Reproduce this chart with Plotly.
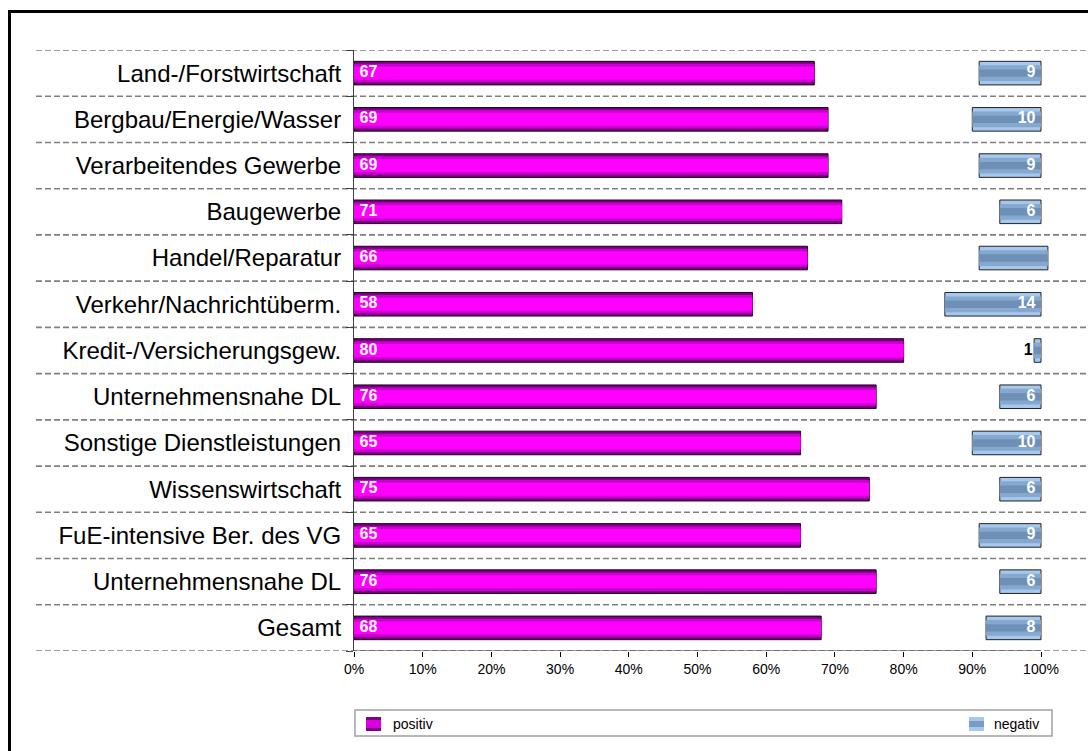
import plotly.graph_objects as go

categories = [
    "Land-/Forstwirtschaft",
    "Bergbau/Energie/Wasser",
    "Verarbeitendes Gewerbe",
    "Baugewerbe",
    "Handel/Reparatur",
    "Verkehr/Nachrichtüberm.",
    "Kredit-/Versicherungsgew.",
    "Unternehmensnahe DL",
    "Sonstige Dienstleistungen",
    "Wissenswirtschaft",
    "FuE-intensive Ber. des VG",
    "Unternehmensnahe DL",
    "Gesamt",
]
positiv = [67, 69, 69, 71, 66, 58, 80, 76, 65, 75, 65, 76, 68]
neutral = [24, 21, 22, 23, 25, 28, 19, 18, 25, 19, 26, 18, 24]
negativ = [9, 10, 9, 6, 10, 14, 1, 6, 10, 6, 9, 6, 8]
negativ_label = ["9", "10", "9", "6", "", "14", "1", "6", "10", "6", "9", "6", "8"]
x_ticks = [0, 10, 20, 30, 40, 50, 60, 70, 80, 90, 100]
x_ticktext = [f"{v}%" for v in x_ticks]

FONT = "Liberation Sans, Arial, sans-serif"
ypos = list(range(len(categories)))
neg_base = [p + n for p, n in zip(positiv, neutral)]
neg_end = [b + v for b, v in zip(neg_base, negativ)]

X_MAX = 101.6  # a little room so an overshooting bar is not clipped
W, H = 1088, 751
UNIT = 6.87  # pixels per percent
ML, MT, MB = 354, 50, 100
MR = round(W - ML - X_MAX * UNIT)
PW, PH = W - ML - MR, H - MT - MB


def px(xf):
    return (xf - ML) / PW


def py(yf):
    return (H - MB - yf) / PH


fig = go.Figure()

# positive bars (layered for a vertical gradient look)
pos_layers = [(0.51, "#7a0080", dict(color="#1a001a", width=1)),
              (0.40, "#c800d0", dict(width=0)),
              (0.28, "#ff00ff", dict(width=0))]
for w, c, ln in pos_layers:
    fig.add_trace(go.Bar(x=positiv, y=ypos, base=0, orientation="h", width=w,
                         marker=dict(color=c, line=ln), showlegend=False,
                         hoverinfo="skip"))

# negative bars
neg_layers = [(0.51, "#a4c8ee", dict(color="#222222", width=1)),
              (0.34, "#86a8cf", dict(width=0)),
              (0.16, "#6e8fb6", dict(width=0))]
for w, c, ln in neg_layers:
    fig.add_trace(go.Bar(x=negativ, y=ypos, base=neg_base, orientation="h", width=w,
                         marker=dict(color=c, line=ln), showlegend=False,
                         hoverinfo="skip"))

# labels
fig.add_trace(go.Scatter(x=[0.8] * len(positiv), y=ypos, mode="text",
                         text=[str(v) for v in positiv], textposition="middle right",
                         textfont=dict(family=FONT, size=16, color="white", weight="bold"),
                         showlegend=False, hoverinfo="skip", cliponaxis=False))

lab_x, lab_col = [], []
for b, e, v in zip(neg_base, neg_end, negativ):
    if v < 3:
        lab_x.append(b - 0.2)
        lab_col.append("black")
    else:
        lab_x.append(e - 0.8)
        lab_col.append("white")
fig.add_trace(go.Scatter(x=lab_x, y=ypos, mode="text", text=negativ_label,
                         textposition="middle left",
                         textfont=dict(family=FONT, size=16, color=lab_col, weight="bold"),
                         showlegend=False, hoverinfo="skip", cliponaxis=False))

# dashed separators between categories
shapes = []
for i in range(len(categories) + 1):
    yv = i - 0.5
    shapes.append(dict(type="line", xref="paper", yref="y", x0=px(36), x1=px(W + 5),
                       y0=yv, y1=yv, layer="below",
                       line=dict(color="#808080", width=1.6, dash="6px,3px")))

# x axis baseline from 0% to 100%
shapes.append(dict(type="line", xref="x", yref="y", x0=x_ticks[0], x1=x_ticks[-1],
                   y0=len(categories) - 0.5, y1=len(categories) - 0.5,
                   line=dict(color="#404040", width=1)))

# outer frame
shapes.append(dict(type="rect", xref="paper", yref="paper", x0=px(9.5), x1=px(W + 40),
                   y0=py(H + 40), y1=py(11.5), line=dict(color="black", width=3),
                   fillcolor="rgba(0,0,0,0)"))

# legend box (manual)
shapes.append(dict(type="rect", xref="paper", yref="paper", x0=px(355), x1=px(1052),
                   y0=py(736), y1=py(710), line=dict(color="#a0a0a0", width=1.5),
                   fillcolor="white"))
# swatches
shapes.append(dict(type="rect", xref="paper", yref="paper", x0=px(366), x1=px(381),
                   y0=py(731), y1=py(717), line=dict(width=0), fillcolor="#800088"))
shapes.append(dict(type="rect", xref="paper", yref="paper", x0=px(366), x1=px(381),
                   y0=py(728), y1=py(720), line=dict(width=0), fillcolor="#d800e0"))
shapes.append(dict(type="rect", xref="paper", yref="paper", x0=px(969), x1=px(984),
                   y0=py(731), y1=py(717), line=dict(width=0), fillcolor="#a4c8ee"))
shapes.append(dict(type="rect", xref="paper", yref="paper", x0=px(969), x1=px(984),
                   y0=py(727), y1=py(721), line=dict(width=0), fillcolor="#7a9cc4"))

annotations = [
    dict(text="positiv", xref="paper", yref="paper", x=px(391), y=py(724),
         xanchor="left", yanchor="middle", showarrow=False,
         font=dict(family=FONT, size=14, color="black")),
    dict(text="negativ", xref="paper", yref="paper", x=px(992), y=py(724),
         xanchor="left", yanchor="middle", showarrow=False,
         font=dict(family=FONT, size=14, color="black")),
]

fig.update_layout(
    width=W, height=H,
    margin=dict(l=ML, r=MR, t=MT, b=MB),
    paper_bgcolor="white", plot_bgcolor="white",
    barmode="overlay",
    shapes=shapes, annotations=annotations,
    showlegend=False,
    font=dict(family=FONT, color="black"),
    xaxis=dict(range=[0, X_MAX], tickvals=x_ticks, ticktext=x_ticktext,
               ticks="outside", ticklen=5, tickcolor="black",
               showline=False, showgrid=False, zeroline=False,
               tickfont=dict(family=FONT, size=14, color="black")),
    yaxis=dict(range=[len(categories) - 0.5, -0.5], tickvals=ypos, ticktext=categories,
               ticks="", showline=True, linecolor="#404040", linewidth=1,
               showgrid=False, zeroline=False, ticklabelstandoff=7,
               tickfont=dict(family=FONT, size=24, color="black"),
               minor=dict(tickvals=[i - 0.5 for i in range(len(categories) + 1)],
                          ticks="outside", ticklen=7, tickcolor="#404040",
                          showgrid=False)),
)

fig.write_html("out.html", config={"displayModeBar": False},
               post_script="document.body.style.margin='0';"
                           "document.body.style.overflow='hidden';")
